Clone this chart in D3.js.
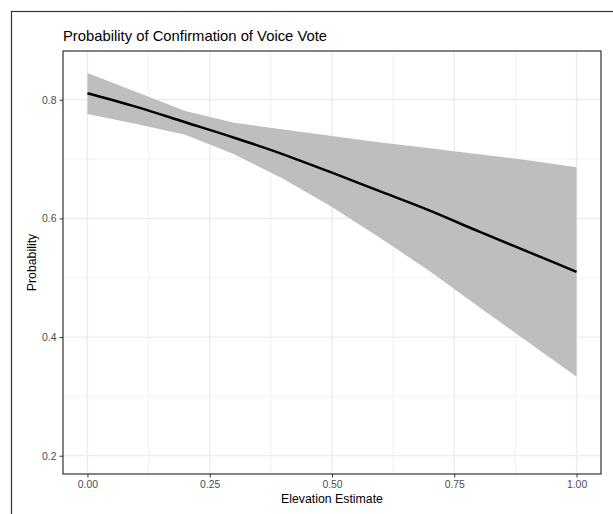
<!DOCTYPE html>
<html>
<head>
<meta charset="utf-8">
<script src="https://cdn.jsdelivr.net/npm/d3@7"></script>
<style>
body { margin: 0; background: #fff; }
text { font-family: "Liberation Sans", Arial, sans-serif; }
</style>
</head>
<body>
<script>
//////////////////////////////////////////////DATA//////////////////////////////////////////////
var elevation = [0.0, 0.1, 0.2, 0.3, 0.4, 0.5, 0.6, 0.7, 0.8, 0.9, 1.0];
var probFit   = [0.811, 0.788, 0.762, 0.736, 0.708, 0.677, 0.645, 0.613, 0.578, 0.544, 0.510];
var probUpper = [0.845, 0.813, 0.781, 0.761, 0.750, 0.739, 0.728, 0.718, 0.708, 0.698, 0.686];
var probLower = [0.776, 0.759, 0.741, 0.708, 0.667, 0.619, 0.566, 0.511, 0.451, 0.392, 0.333];
var xTicks = [0, 0.25, 0.5, 0.75, 1];
var yTicks = [0.2, 0.4, 0.6, 0.8];

//////////////////////////////////////////////SETUP/////////////////////////////////////////////
var width = 613,
    height = 514,
    panel = {left: 63, top: 51, right: 601, bottom: 474};

var svg = d3.select("body").append("svg")
    .attr("width", width)
    .attr("height", height);

// outer frame (runs off the right and bottom of the picture)
svg.append("rect")
    .attr("x", 11.5).attr("y", 11.5)
    .attr("width", 700).attr("height", 700)
    .attr("fill", "none")
    .attr("stroke", "#333")
    .attr("stroke-width", 1.2);

var x = d3.scaleLinear()
    .domain([-0.05, 1.05])
    .range([panel.left, panel.right]);

var y = d3.scaleLinear()
    .domain([0.1692, 0.8821])
    .range([panel.bottom, panel.top]);

var data = elevation.map(function (d, i) {
    return {x: d, fit: probFit[i], lo: probLower[i], hi: probUpper[i]};
});

//////////////////////////////////////////////GRID//////////////////////////////////////////////
var grid = svg.append("g");
var xMinor = [0.125, 0.375, 0.625, 0.875];
var yMinor = [0.3, 0.5, 0.7];

grid.selectAll(".xminor").data(xMinor).enter().append("line")
    .attr("x1", function (d) { return x(d); }).attr("x2", function (d) { return x(d); })
    .attr("y1", panel.top).attr("y2", panel.bottom)
    .attr("stroke", "#F2F2F2").attr("stroke-width", 1);
grid.selectAll(".yminor").data(yMinor).enter().append("line")
    .attr("y1", function (d) { return y(d); }).attr("y2", function (d) { return y(d); })
    .attr("x1", panel.left).attr("x2", panel.right)
    .attr("stroke", "#F2F2F2").attr("stroke-width", 1);
grid.selectAll(".xmajor").data(xTicks).enter().append("line")
    .attr("x1", function (d) { return x(d); }).attr("x2", function (d) { return x(d); })
    .attr("y1", panel.top).attr("y2", panel.bottom)
    .attr("stroke", "#EBEBEB").attr("stroke-width", 1.3);
grid.selectAll(".ymajor").data(yTicks).enter().append("line")
    .attr("y1", function (d) { return y(d); }).attr("y2", function (d) { return y(d); })
    .attr("x1", panel.left).attr("x2", panel.right)
    .attr("stroke", "#EBEBEB").attr("stroke-width", 1.3);

//////////////////////////////////////////////RIBBON + LINE/////////////////////////////////////
var area = d3.area()
    .x(function (d) { return x(d.x); })
    .y0(function (d) { return y(d.lo); })
    .y1(function (d) { return y(d.hi); });

svg.append("path")
    .datum(data)
    .attr("d", area)
    .attr("fill", "#BEBEBE");

var line = d3.line()
    .curve(d3.curveMonotoneX)
    .x(function (d) { return x(d.x); })
    .y(function (d) { return y(d.fit); });

svg.append("path")
    .datum(data)
    .attr("d", line)
    .attr("fill", "none")
    .attr("stroke", "#000")
    .attr("stroke-width", 2.5);

//////////////////////////////////////////////AXES//////////////////////////////////////////////
var xAxis = d3.axisBottom(x)
    .tickValues(xTicks)
    .tickSize(3.5)
    .tickPadding(3)
    .tickFormat(d3.format(".2f"));

var yAxis = d3.axisLeft(y)
    .tickValues(yTicks)
    .tickSize(3.5)
    .tickPadding(3)
    .tickFormat(d3.format(".1f"));

var gx = svg.append("g")
    .attr("transform", "translate(0," + panel.bottom + ")")
    .call(xAxis);
var gy = svg.append("g")
    .attr("transform", "translate(" + panel.left + ",0)")
    .call(yAxis);

[gx, gy].forEach(function (g) {
    g.select(".domain").remove();
    g.selectAll(".tick line").attr("stroke", "#333").attr("stroke-width", 1);
    g.selectAll(".tick text")
        .attr("fill", "#4D4D4D")
        .style("font-size", "10.4px")
        .style("font-family", "'Liberation Sans', Arial, sans-serif");
});

// panel border
svg.append("rect")
    .attr("x", panel.left).attr("y", panel.top)
    .attr("width", panel.right - panel.left)
    .attr("height", panel.bottom - panel.top)
    .attr("fill", "none")
    .attr("stroke", "#333")
    .attr("stroke-width", 1.2);

//////////////////////////////////////////////LABELS////////////////////////////////////////////
svg.append("text")
    .attr("x", panel.left)
    .attr("y", 41)
    .attr("font-size", "14.8px")
    .attr("fill", "#000")
    .text("Probability of Confirmation of Voice Vote");

svg.append("text")
    .attr("x", (panel.left + panel.right) / 2)
    .attr("y", 503)
    .attr("text-anchor", "middle")
    .attr("font-size", "12.3px")
    .attr("fill", "#000")
    .text("Elevation Estimate");

svg.append("text")
    .attr("transform", "translate(36," + (panel.top + panel.bottom) / 2 + ") rotate(-90)")
    .attr("text-anchor", "middle")
    .attr("font-size", "12.3px")
    .attr("fill", "#000")
    .text("Probability");
</script>
</body>
</html>
